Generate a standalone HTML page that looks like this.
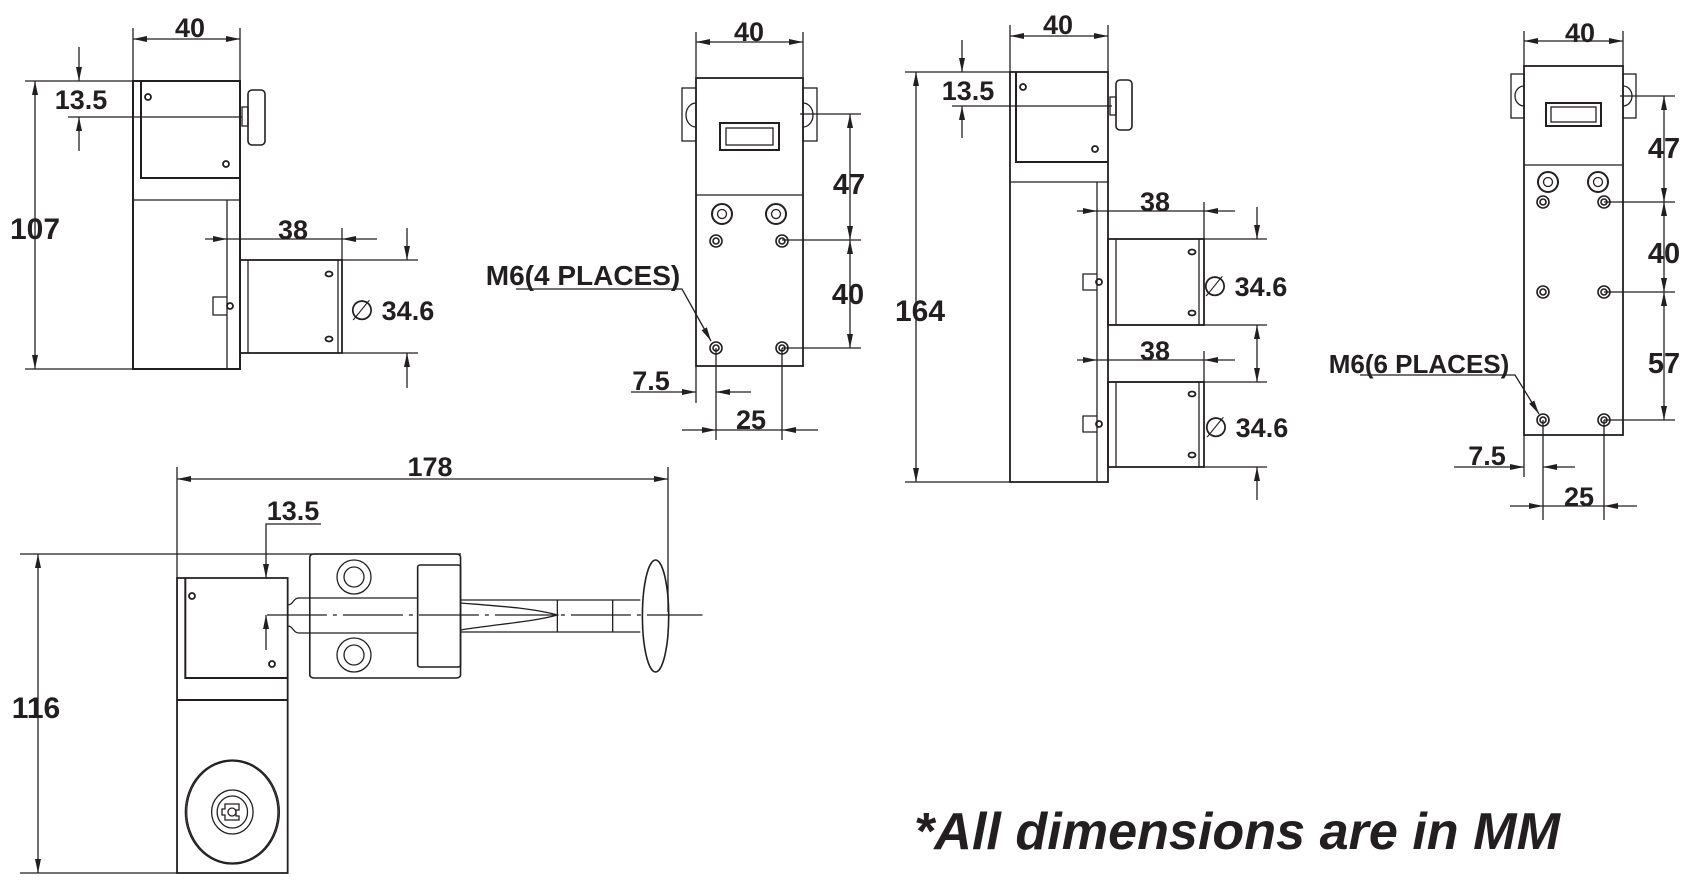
<!DOCTYPE html>
<html><head><meta charset="utf-8"><style>
html,body{margin:0;padding:0;background:#fff;}
svg{display:block}
text{font-family:"Liberation Sans",sans-serif;font-weight:bold;fill:#231f20}
</style></head><body>
<svg width="1707" height="882" viewBox="0 0 1707 882" xmlns="http://www.w3.org/2000/svg">
<defs>
<marker id="a" viewBox="0 0 14 6" refX="14" refY="3" markerWidth="14" markerHeight="6" markerUnits="userSpaceOnUse" orient="auto-start-reverse"><path d="M0,0 L14,3 L0,6 z" fill="#231f20"/></marker>
</defs>
<g stroke="#231f20" stroke-width="1.3" fill="none">
<!-- VIEW 1 -->
<rect x="133" y="81" width="107" height="288" stroke-width="2"/>
<polyline points="141,81 141,178 240,178" stroke-width="2"/>
<line x1="133" y1="200" x2="240" y2="200"/>
<line x1="227" y1="200" x2="227" y2="369"/>
<rect x="242" y="107" width="6" height="19"/>
<rect x="248" y="90" width="17" height="55" rx="4" stroke-width="1.6"/>
<circle cx="148" cy="97" r="3" stroke-width="1.8"/><circle cx="226" cy="164" r="3" stroke-width="1.8"/>
<polyline points="227,297 213,297 213,315 227,315"/><circle cx="230" cy="306" r="3" stroke-width="1.8"/>
<rect x="240" y="260" width="102" height="93" stroke-width="1.8"/>
<line x1="248" y1="260" x2="248" y2="353"/><line x1="338" y1="260" x2="338" y2="353"/>
<ellipse cx="329" cy="274" rx="3.5" ry="2.5" stroke-width="1.8"/><ellipse cx="329" cy="339" rx="3.5" ry="2.5" stroke-width="1.8"/>
<line x1="133" y1="28" x2="133" y2="81"/><line x1="240" y1="28" x2="240" y2="81"/>
<line x1="133" y1="39" x2="240" y2="39" marker-start="url(#a)" marker-end="url(#a)"/>
<line x1="25" y1="81" x2="133" y2="81"/><line x1="25" y1="369" x2="133" y2="369"/>
<line x1="35" y1="81" x2="35" y2="369" marker-start="url(#a)" marker-end="url(#a)"/>
<line x1="68" y1="117" x2="242" y2="117"/>
<line x1="79" y1="47" x2="79" y2="81" marker-end="url(#a)"/><line x1="79" y1="151" x2="79" y2="117" marker-end="url(#a)"/>
<line x1="342" y1="228" x2="342" y2="260"/>
<line x1="205" y1="239" x2="227" y2="239" marker-end="url(#a)"/><line x1="227" y1="239" x2="342" y2="239"/><line x1="377" y1="239" x2="342" y2="239" marker-end="url(#a)"/>
<line x1="342" y1="260" x2="418" y2="260"/><line x1="342" y1="353" x2="418" y2="353"/>
<line x1="407" y1="228" x2="407" y2="260" marker-end="url(#a)"/><line x1="407" y1="388" x2="407" y2="353" marker-end="url(#a)"/>
<!-- VIEW 2 -->
<rect x="696" y="78" width="107" height="288" stroke-width="1.8"/>
<line x1="696" y1="195" x2="803" y2="195"/>
<rect x="682" y="88" width="14" height="53"/><rect x="803" y="88" width="14" height="53"/>
<path d="M696,103 a10,12 0 0 0 0,24 M803,103 a10,12 0 0 1 0,24"/>
<rect x="720" y="123" width="59" height="27" stroke-width="2"/><rect x="726" y="128" width="47" height="17"/>
<circle cx="722" cy="214" r="10" stroke-width="2"/><circle cx="722" cy="214" r="4.5"/>
<circle cx="776" cy="214" r="10" stroke-width="2"/><circle cx="776" cy="214" r="4.5"/>
<g stroke-width="1.6"><circle cx="716" cy="241" r="6"/><circle cx="716" cy="241" r="3"/><circle cx="782" cy="241" r="6"/><circle cx="782" cy="241" r="3"/>
<circle cx="716" cy="348" r="6"/><circle cx="716" cy="348" r="3"/><circle cx="782" cy="348" r="6"/><circle cx="782" cy="348" r="3"/></g>
<line x1="696" y1="32" x2="696" y2="78"/><line x1="803" y1="32" x2="803" y2="78"/>
<line x1="696" y1="42" x2="803" y2="42" marker-start="url(#a)" marker-end="url(#a)"/>
<line x1="800" y1="114" x2="861" y2="114"/><line x1="782" y1="240" x2="861" y2="240"/><line x1="782" y1="348" x2="861" y2="348"/>
<line x1="850" y1="114" x2="850" y2="240" marker-start="url(#a)" marker-end="url(#a)"/>
<line x1="850" y1="240" x2="850" y2="348" marker-start="url(#a)" marker-end="url(#a)"/>
<polyline points="516,289 682,289 711,341" marker-end="url(#a)"/>
<line x1="696" y1="366" x2="696" y2="403"/><line x1="716" y1="348" x2="716" y2="440"/><line x1="782" y1="348" x2="782" y2="440"/>
<line x1="631" y1="392" x2="696" y2="392" marker-end="url(#a)"/><line x1="751" y1="392" x2="716" y2="392" marker-end="url(#a)"/>
<line x1="682" y1="430" x2="716" y2="430" marker-end="url(#a)"/><line x1="818" y1="430" x2="782" y2="430" marker-end="url(#a)"/><line x1="716" y1="430" x2="782" y2="430"/>
<!-- VIEW 3 -->
<rect x="1010" y="72" width="98" height="410" stroke-width="1.8"/>
<polyline points="1016,72 1016,162 1108,162" stroke-width="2"/>
<line x1="1010" y1="182" x2="1108" y2="182"/><line x1="1097" y1="182" x2="1097" y2="482"/>
<rect x="1110" y="97" width="6" height="18"/><rect x="1116" y="80" width="16" height="50" rx="4" stroke-width="1.6"/>
<circle cx="1023" cy="87" r="3" stroke-width="1.8"/><circle cx="1095" cy="149" r="3" stroke-width="1.8"/>
<polyline points="1097,274 1083,274 1083,290 1097,290"/><circle cx="1099" cy="282" r="3" stroke-width="1.8"/>
<polyline points="1097,416 1083,416 1083,432 1097,432"/><circle cx="1099" cy="424" r="3" stroke-width="1.8"/>
<rect x="1108" y="239" width="96" height="86" stroke-width="1.8"/><line x1="1116" y1="239" x2="1116" y2="325"/><line x1="1199" y1="239" x2="1199" y2="325"/>
<rect x="1108" y="382" width="96" height="85" stroke-width="1.8"/><line x1="1116" y1="382" x2="1116" y2="467"/><line x1="1199" y1="382" x2="1199" y2="467"/>
<g stroke-width="1.8"><ellipse cx="1192" cy="252" rx="3.5" ry="2.5"/><ellipse cx="1192" cy="313" rx="3.5" ry="2.5"/><ellipse cx="1192" cy="394" rx="3.5" ry="2.5"/><ellipse cx="1192" cy="455" rx="3.5" ry="2.5"/></g>
<line x1="1010" y1="25" x2="1010" y2="72"/><line x1="1108" y1="25" x2="1108" y2="72"/>
<line x1="1010" y1="36" x2="1108" y2="36" marker-start="url(#a)" marker-end="url(#a)"/>
<line x1="905" y1="72" x2="1010" y2="72"/><line x1="905" y1="482" x2="1010" y2="482"/>
<line x1="916" y1="72" x2="916" y2="482" marker-start="url(#a)" marker-end="url(#a)"/>
<line x1="952" y1="106" x2="1112" y2="106"/>
<line x1="962" y1="40" x2="962" y2="72" marker-end="url(#a)"/><line x1="962" y1="138" x2="962" y2="106" marker-end="url(#a)"/>
<line x1="1204" y1="202" x2="1204" y2="239"/><line x1="1204" y1="351" x2="1204" y2="382"/>
<line x1="1077" y1="211" x2="1097" y2="211" marker-end="url(#a)"/><line x1="1097" y1="211" x2="1204" y2="211"/><line x1="1235" y1="211" x2="1204" y2="211" marker-end="url(#a)"/>
<line x1="1077" y1="360" x2="1097" y2="360" marker-end="url(#a)"/><line x1="1097" y1="360" x2="1204" y2="360"/><line x1="1235" y1="360" x2="1204" y2="360" marker-end="url(#a)"/>
<line x1="1204" y1="239" x2="1267" y2="239"/><line x1="1108" y1="325" x2="1267" y2="325"/><line x1="1108" y1="382" x2="1267" y2="382"/><line x1="1204" y1="467" x2="1267" y2="467"/>
<line x1="1257" y1="207" x2="1257" y2="239" marker-end="url(#a)"/><line x1="1257" y1="325" x2="1257" y2="382" marker-start="url(#a)" marker-end="url(#a)"/><line x1="1257" y1="500" x2="1257" y2="467" marker-end="url(#a)"/>
<!-- VIEW 4 -->
<rect x="1524" y="66" width="99" height="369" stroke-width="1.8"/>
<line x1="1524" y1="165" x2="1623" y2="165"/>
<rect x="1511" y="74" width="13" height="44"/><rect x="1623" y="74" width="13" height="44"/>
<path d="M1524,86 a9,10 0 0 0 0,20 M1623,86 a9,10 0 0 1 0,20"/>
<rect x="1546" y="103" width="55" height="23" stroke-width="2"/><rect x="1551" y="107" width="45" height="15"/>
<circle cx="1548" cy="182" r="10" stroke-width="2"/><circle cx="1548" cy="182" r="4.5"/>
<circle cx="1598" cy="182" r="10" stroke-width="2"/><circle cx="1598" cy="182" r="4.5"/>
<g stroke-width="1.6"><circle cx="1543" cy="202" r="6"/><circle cx="1543" cy="202" r="3"/><circle cx="1604" cy="202" r="6"/><circle cx="1604" cy="202" r="3"/>
<circle cx="1543" cy="292" r="6"/><circle cx="1543" cy="292" r="3"/><circle cx="1604" cy="292" r="6"/><circle cx="1604" cy="292" r="3"/>
<circle cx="1543" cy="420" r="6"/><circle cx="1543" cy="420" r="3"/><circle cx="1604" cy="420" r="6"/><circle cx="1604" cy="420" r="3"/></g>
<line x1="1524" y1="31" x2="1524" y2="66"/><line x1="1623" y1="31" x2="1623" y2="66"/>
<line x1="1524" y1="41" x2="1623" y2="41" marker-start="url(#a)" marker-end="url(#a)"/>
<line x1="1620" y1="96" x2="1675" y2="96"/><line x1="1604" y1="202" x2="1675" y2="202"/><line x1="1604" y1="292" x2="1675" y2="292"/><line x1="1604" y1="420" x2="1675" y2="420"/>
<line x1="1664" y1="96" x2="1664" y2="202" marker-start="url(#a)" marker-end="url(#a)"/>
<line x1="1664" y1="202" x2="1664" y2="292" marker-start="url(#a)" marker-end="url(#a)"/>
<line x1="1664" y1="292" x2="1664" y2="420" marker-start="url(#a)" marker-end="url(#a)"/>
<polyline points="1360,375 1515,375 1539,414" marker-end="url(#a)"/>
<line x1="1524" y1="435" x2="1524" y2="477"/><line x1="1543" y1="420" x2="1543" y2="520"/><line x1="1604" y1="420" x2="1604" y2="520"/>
<line x1="1454" y1="467" x2="1524" y2="467" marker-end="url(#a)"/><line x1="1575" y1="467" x2="1543" y2="467" marker-end="url(#a)"/>
<line x1="1510" y1="506" x2="1543" y2="506" marker-end="url(#a)"/><line x1="1637" y1="506" x2="1604" y2="506" marker-end="url(#a)"/><line x1="1543" y1="506" x2="1604" y2="506"/>
<!-- VIEW 5 (shapes, horizontally scaled) -->
<g transform="scale(1.383,1)">
<rect x="128" y="578" width="80" height="295" stroke-width="1.8" vector-effect="non-scaling-stroke"/>
<polyline points="134,578 134,678 208,678" stroke-width="2" vector-effect="non-scaling-stroke"/>
<line x1="128" y1="700" x2="208" y2="700" stroke-width="2" vector-effect="non-scaling-stroke"/>
<ellipse cx="168" cy="812" rx="34" ry="52" vector-effect="non-scaling-stroke"/><ellipse cx="168" cy="812" rx="33" ry="51" vector-effect="non-scaling-stroke"/>
<ellipse cx="168" cy="812" rx="15" ry="22" vector-effect="non-scaling-stroke"/><ellipse cx="168" cy="812" rx="11" ry="16" vector-effect="non-scaling-stroke"/>
<rect x="224" y="554" width="109" height="124" rx="3" stroke-width="1.6" vector-effect="non-scaling-stroke"/>
<line x1="224" y1="598" x2="302" y2="598" vector-effect="non-scaling-stroke"/><line x1="224" y1="633" x2="302" y2="633" vector-effect="non-scaling-stroke"/>
<path d="M208,605 c4,0 4,-7 8,-7 h8 M208,626 c4,0 4,7 8,7 h8" vector-effect="non-scaling-stroke"/>
<rect x="302" y="565" width="31" height="102" rx="2" stroke-width="1.6" vector-effect="non-scaling-stroke"/>
<line x1="333" y1="600" x2="463" y2="600" vector-effect="non-scaling-stroke"/><line x1="333" y1="632" x2="463" y2="632" vector-effect="non-scaling-stroke"/>
<path d="M333,603 C360,606 385,608 403,615 C385,622 360,624 333,630" vector-effect="non-scaling-stroke"/>
<line x1="403" y1="600" x2="403" y2="632" vector-effect="non-scaling-stroke"/><line x1="443" y1="600" x2="443" y2="632" vector-effect="non-scaling-stroke"/>
<ellipse cx="474" cy="616" rx="9.5" ry="56" stroke-width="1.6" vector-effect="non-scaling-stroke"/>
<line x1="193" y1="615" x2="508" y2="615" stroke-dasharray="60,6,4,6" vector-effect="non-scaling-stroke"/>
</g>
<circle cx="192" cy="596" r="3" stroke-width="1.8"/><circle cx="272" cy="664" r="3" stroke-width="1.8"/>
<path d="M225,804 h14 v6 h-3 v6 h3 v4 h-14 v-5 h-3 v-6 h3 z"/><circle cx="232" cy="812" r="4"/>
<circle cx="354" cy="577" r="17"/><circle cx="354" cy="577" r="10"/>
<circle cx="354" cy="655" r="17"/><circle cx="354" cy="655" r="10"/>
<line x1="177" y1="467" x2="177" y2="578"/><line x1="668" y1="467" x2="668" y2="612"/>
<line x1="177" y1="479" x2="668" y2="479" marker-start="url(#a)" marker-end="url(#a)"/>
<line x1="20" y1="554" x2="461" y2="554"/><line x1="20" y1="873" x2="177" y2="873"/>
<line x1="38" y1="554" x2="38" y2="873" marker-start="url(#a)" marker-end="url(#a)"/>
<polyline points="321,524 266,524 266,578" marker-end="url(#a)"/>
<line x1="266" y1="650" x2="266" y2="615" marker-end="url(#a)"/>
</g>
<!-- TEXT -->
<g font-size="27" text-anchor="middle">
<text x="190" y="37">40</text>
<text x="81" y="109">13.5</text>
<text x="35" y="239" font-size="30">107</text>
<text x="293" y="239">38</text>
<text x="392" y="320"><tspan font-weight="normal" font-size="28">∅</tspan> 34.6</text>
<text x="749" y="41">40</text>
<text x="849" y="194" font-size="29">47</text>
<text x="848" y="304" font-size="29">40</text>
<text x="583" y="285" font-size="28">M6(4 PLACES)</text>
<text x="651" y="390">7.5</text>
<text x="751" y="429">25</text>
<text x="1058" y="34">40</text>
<text x="968" y="100">13.5</text>
<text x="920" y="321" font-size="30">164</text>
<text x="1155" y="211">38</text>
<text x="1155" y="360">38</text>
<text x="1245" y="296"><tspan font-weight="normal" font-size="28">∅</tspan> 34.6</text>
<text x="1246" y="437"><tspan font-weight="normal" font-size="28">∅</tspan> 34.6</text>
<text x="1580" y="42">40</text>
<text x="1664" y="158" font-size="29">47</text>
<text x="1664" y="263" font-size="29">40</text>
<text x="1664" y="373" font-size="29">57</text>
<text x="1419" y="373" font-size="26">M6(6 PLACES)</text>
<text x="1487" y="465">7.5</text>
<text x="1579" y="506">25</text>
<text x="430" y="476">178</text>
<text x="293" y="520">13.5</text>
<text x="36" y="718" font-size="30">116</text>
</g>
<text x="914" y="849" font-size="52" font-style="italic" textLength="646" lengthAdjust="spacingAndGlyphs">*All dimensions are in MM</text>
</svg>
</body></html>
